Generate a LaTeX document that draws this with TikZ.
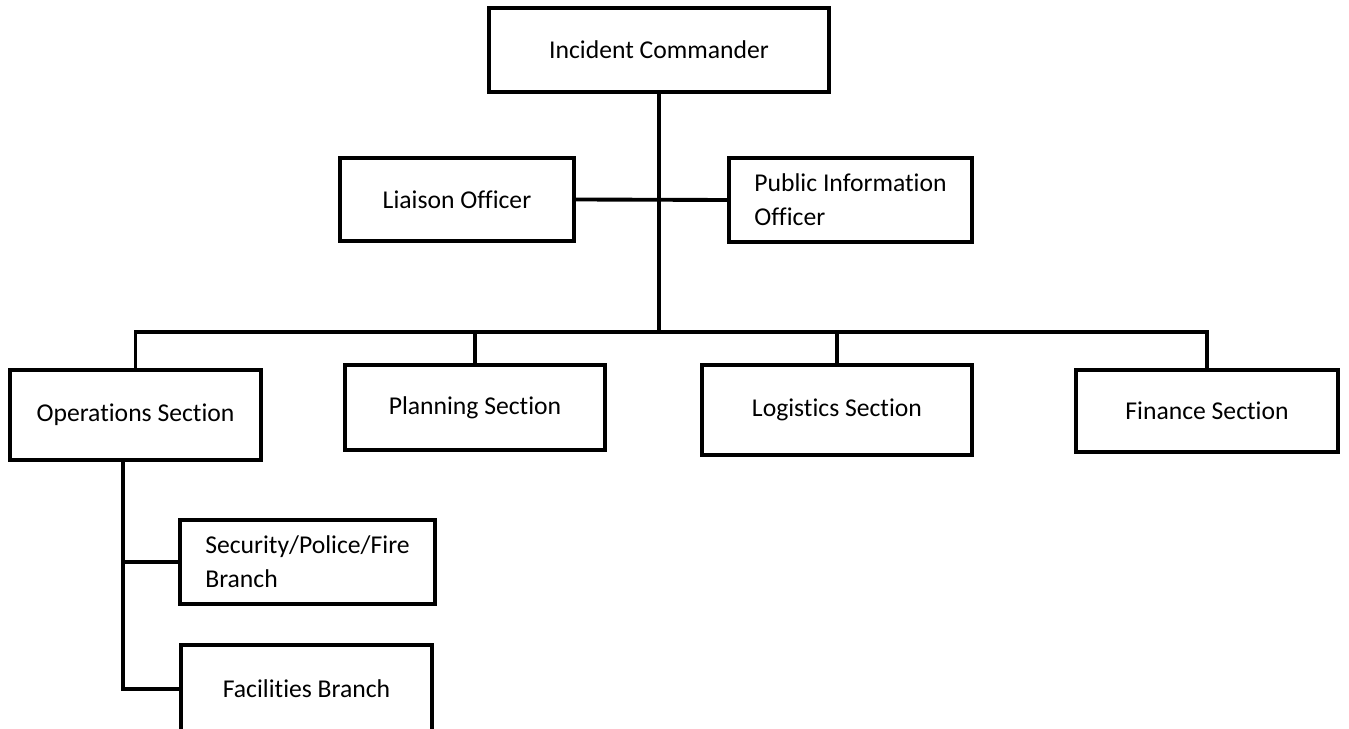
\documentclass[tikz,border=0pt]{standalone}
\usepackage{fontspec}
\setmainfont{Carlito}[Ligatures=NoCommon]

\begin{document}
\begin{tikzpicture}[x=0.02cm, y=-0.02cm, line width=2.2pt,
  box/.style={draw, rectangle, inner sep=2pt, font=\fontsize{14.6}{19.5}\selectfont}]
 \useasboundingbox (0,0) rectangle (1349,729);

 \node[box, minimum width=6.8cm, minimum height=1.68cm] (ic) at (659,50) {Incident Commander};
 \node[box, minimum width=4.68cm, minimum height=1.66cm] (liaison) at (457,199.5) {Liaison Officer};
 \node[box, minimum width=4.86cm, minimum height=1.68cm, align=left] (pio) at (850.5,200) {Public Information\\Officer};

 \node[box, minimum width=5.02cm, minimum height=1.8cm] (ops) at (135.5,415) {Operations Section};
 \node[box, minimum width=5.2cm, minimum height=1.7cm] (plan) at (475,407.5) {Planning Section};
 \node[box, minimum width=5.4cm, minimum height=1.8cm] (logi) at (837,410) {Logistics Section};
 \node[box, minimum width=5.24cm, minimum height=1.64cm] (fin) at (1207,411) {Finance Section};

 \node[box, minimum width=5.1cm, minimum height=1.68cm, align=left] (sec) at (307.5,562) {Security/Police/Fire\\Branch};
 \node[box, minimum width=5.02cm, minimum height=1.76cm] (fac) at (306.5,689) {Facilities Branch};

 \coordinate (bus) at (659,332);

 \draw (ic.south) -- (ic.south |- bus);
 \draw (liaison.east) -- (pio.west);
 \draw (ops.north) -- (ops.north |- bus) -- (fin.north |- bus) -- (fin.north);
 \draw (plan.north) -- (plan.north |- bus);
 \draw (logi.north) -- (logi.north |- bus);

 \draw ([xshift=-0.25cm]ops.south) |- (sec.west);
 \draw ([xshift=-0.25cm]ops.south) |- (fac.west);
\end{tikzpicture}
\end{document}
